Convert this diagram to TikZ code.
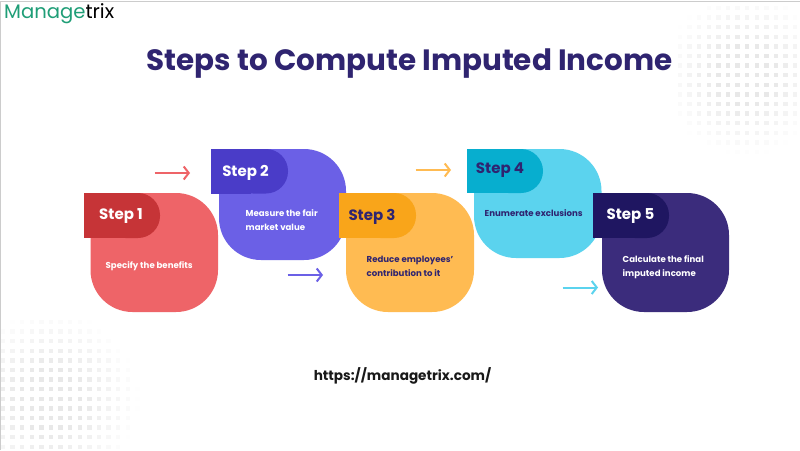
\documentclass[tikz,border=0pt]{standalone}
\usepackage{fontspec}
\setmainfont{Poppins}
\usetikzlibrary{arrows.meta}
\definecolor{titlec}{HTML}{2F2470}
\definecolor{cardA}{HTML}{EE6468}\definecolor{tabA}{HTML}{C63437}
\definecolor{cardB}{HTML}{6B60E6}\definecolor{tabB}{HTML}{4A3CC8}
\definecolor{cardC}{HTML}{FFBB52}\definecolor{tabC}{HTML}{F9A51A}
\definecolor{cardD}{HTML}{5BD3EE}\definecolor{tabD}{HTML}{07AECF}
\definecolor{cardE}{HTML}{3B2C7C}\definecolor{tabE}{HTML}{1F1661}
\definecolor{logog}{HTML}{1F9E77}
\tikzset{
 stephead/.style={font=\fontsize{15}{18}\selectfont\bfseries,anchor=center,inner sep=0pt},
 bodytext/.style={font=\fontsize{8.6}{13.5}\selectfont\bfseries,align=left,anchor=west,inner sep=0pt},
 flowarrow/.style={line width=2pt,-{Straight Barb[length=5pt,width=13pt,line width=2pt]}},
 cardround/.style={rounded corners=42pt},
}
% left, top, right, bottom, colour of a card
\newcommand{\stepcard}[5]{\fill[#5,cardround] (#1,#2) rectangle (#3,#4);}
% left, top, right, bottom, colour of a tab: square left end, round right end
\newcommand{\steptab}[5]{%
  \fill[#5,rounded corners=22pt] (#1+20,#2) rectangle (#3,#4);
  \fill[#5] (#1,#2) rectangle (#1+40,#4);}
\begin{document}
\begin{tikzpicture}[x=1pt,y=-1pt]
\useasboundingbox (0,0) rectangle (800,450);
\fill[white] (0,0) rectangle (800,450);
\draw[black!20,line width=1pt] (0.5,450) -- (0.5,1.5) -- (800,1.5);
% dot fields
\foreach \i in {0,...,14}{\foreach \j in {0,...,15}{
  \pgfmathsetmacro{\px}{680+9.6*\i}\pgfmathsetmacro{\py}{8+9.6*\j}
  \pgfmathsetmacro{\dd}{sqrt((\px-745)^2+(\py-75)^2)}
  \pgfmathsetmacro{\op}{max(0,min(0.09,0.14*(1-\dd/82)))}
  \fill[black,opacity=\op] (\px-2.2,\py-2.2) rectangle (\px+2.2,\py+2.2);
}}
\foreach \i in {0,...,14}{\foreach \j in {0,...,13}{
  \pgfmathsetmacro{\px}{3+9.6*\i}\pgfmathsetmacro{\py}{322+9.6*\j}
  \pgfmathsetmacro{\dd}{sqrt((\px-50)^2+(\py-400)^2)}
  \pgfmathsetmacro{\op}{max(0,min(0.09,0.14*(1-\dd/90)))}
  \fill[black,opacity=\op] (\px-2.2,\py-2.2) rectangle (\px+2.2,\py+2.2);
}}
% logo and title
\node[anchor=west,inner sep=0pt,font=\fontsize{19.6}{24}\selectfont,text=logog] (logo) at (4,14) {Manage\textcolor{black}{trix}};
\node[inner sep=0pt,font=\fontsize{29.4}{34}\selectfont\bfseries,text=titlec] (title) at (409.5,63.5) {Steps to Compute Imputed Income};
% cards
\stepcard{219}{149}{346}{260}{cardB}
\steptab{211}{149}{288}{193.5}{tabB}
\stepcard{90.5}{193}{218}{312}{cardA}
\steptab{83.5}{193}{160}{238}{tabA}
\stepcard{474}{149}{601.5}{258}{cardD}
\steptab{466.5}{149}{543}{193}{tabD}
\stepcard{346}{193}{474}{312}{cardC}
\steptab{338.5}{193}{416}{238}{tabC}
\stepcard{602}{193}{729}{312}{cardE}
\steptab{593}{193}{669}{238}{tabE}
% headings
\node[stephead,text=white] (s1) at (121,216.5) {Step 1};
\node[stephead,text=white] (s2) at (245.5,173) {Step 2};
\node[stephead,text=titlec] (s3) at (372,216.5) {Step 3};
\node[stephead,text=titlec] (s4) at (500,170.5) {Step 4};
\node[stephead,text=white] (s5) at (630.5,216.5) {Step 5};
% body
\node[bodytext,text=white] (b1) at (105.5,266) {Specify the benefits};
\node[bodytext,text=white] (b2) at (245.5,220) {Measure the fair\\market value};
\node[bodytext,text=titlec] (b3) at (366.5,266.5) {Reduce employees'\\contribution to it};
\node[bodytext,text=titlec] (b4) at (484.5,213) {Enumerate exclusions};
\node[bodytext,text=white] (b5) at (622.5,267) {Calculate the final\\imputed income};
% arrows
\coordinate (a1s) at (154.5,173); \coordinate (a1e) at (190,173);
\coordinate (a2s) at (287.5,275); \coordinate (a2e) at (323,275);
\coordinate (a3s) at (415.5,170); \coordinate (a3e) at (451,170);
\coordinate (a4s) at (562.5,287.5); \coordinate (a4e) at (598,287.5);
\draw[flowarrow,draw=cardA] (a1s) -- (a1e);
\draw[flowarrow,draw=cardB] (a2s) -- (a2e);
\draw[flowarrow,draw=cardC] (a3s) -- (a3e);
\draw[flowarrow,draw=cardD] (a4s) -- (a4e);
% url
\node[inner sep=0pt,font=\fontsize{13.6}{15}\selectfont\bfseries,text=black!90] (url) at (402.5,376) {https://managetrix.com/};
\end{tikzpicture}
\end{document}
